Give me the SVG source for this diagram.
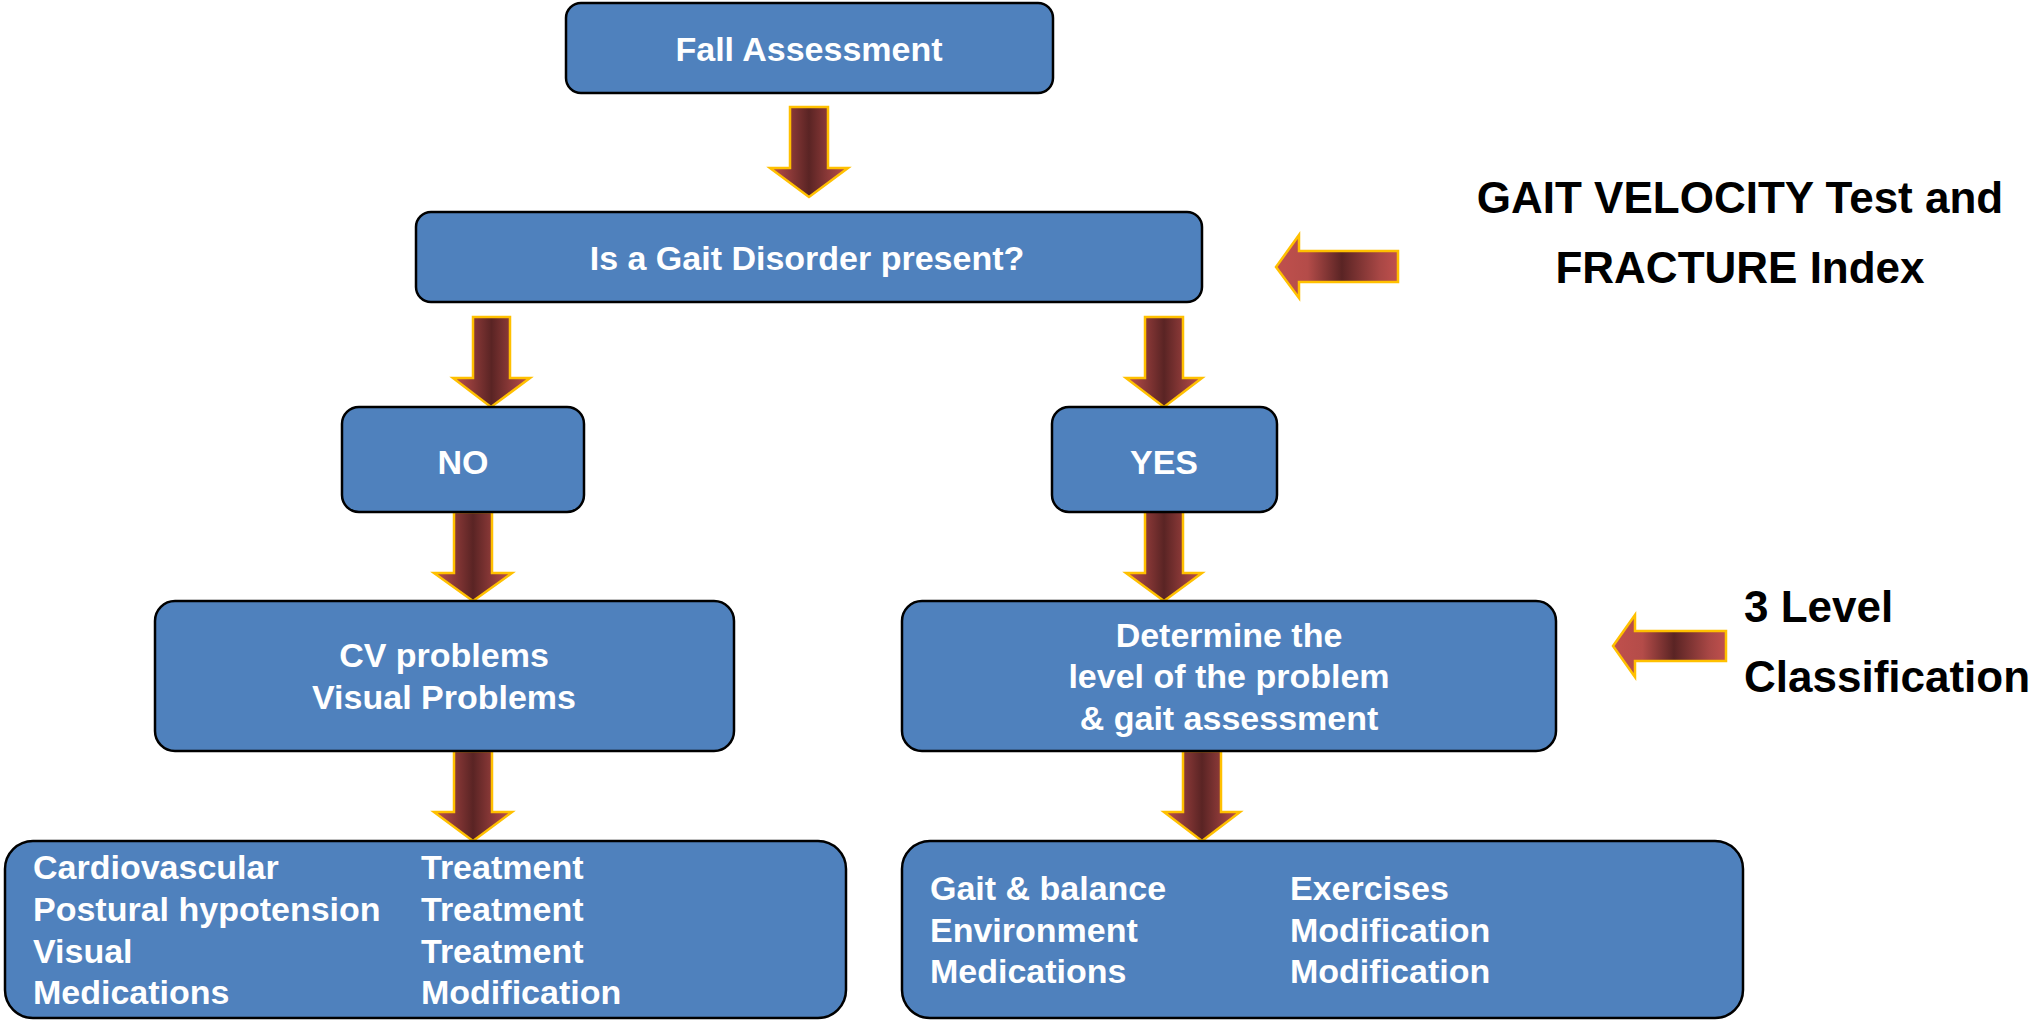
<svg xmlns="http://www.w3.org/2000/svg" width="2038" height="1020" viewBox="0 0 2038 1020">
  <style>
    .box { fill: #4f81bd; stroke: #000; stroke-width: 2.5; }
    .lbl { font-family: "Liberation Sans", Arial, sans-serif; font-weight: bold; font-size: 34px; fill: #fff; }
    .mid { text-anchor: middle; }
    .side { font-family: "Liberation Sans", Arial, sans-serif; font-weight: bold; font-size: 44px; fill: #000; }
    .down { fill: url(#gDown); stroke: #ffc000; stroke-width: 2.5; stroke-linejoin: miter; }
    .left { fill: url(#gLeft); stroke: #ffc000; stroke-width: 2.5; stroke-linejoin: miter; }
  </style>
  <defs>
    <linearGradient id="gDown" x1="0" y1="0" x2="1" y2="0">
      <stop offset="0" stop-color="#c0504d"/>
      <stop offset="0.5" stop-color="#5a2424"/>
      <stop offset="1" stop-color="#c0504d"/>
    </linearGradient>
    <linearGradient id="gLeft" x1="0" y1="0" x2="1" y2="0">
      <stop offset="0" stop-color="#c0504d"/>
      <stop offset="0.26" stop-color="#b44c49"/>
      <stop offset="0.54" stop-color="#5a2424"/>
      <stop offset="0.85" stop-color="#a84745"/>
      <stop offset="1" stop-color="#c0504d"/>
    </linearGradient>
  </defs>
  <rect width="2038" height="1020" fill="#fff"/>

  <!-- connectors: block arrows -->
  <g id="connectors">
    <path class="down" d="M790 107H828V168H848L809 197L770 168H790Z"/>
    <path class="down" d="M473 317H510V378H530L491 407L453 378H473Z"/>
    <path class="down" d="M1145 317H1183V378H1202L1164 407L1126 378H1145Z"/>
    <path class="down" d="M454 512H492V573H512L473 601L434 573H454Z"/>
    <path class="down" d="M1145 511H1183V573H1202L1164 601L1126 573H1145Z"/>
    <path class="down" d="M454 751H492V812H512L473 841L434 812H454Z"/>
    <path class="down" d="M1183 751H1221V812H1240L1202 841L1164 812H1183Z"/>
    <path class="left" d="M1276 267L1299 235V251H1398V282H1299V298Z"/>
    <path class="left" d="M1613 646L1635 615V631H1726V661H1635V677Z"/>
  </g>

  <g id="fall-assessment">
    <rect class="box" x="566" y="3" width="487" height="90" rx="15"/>
    <text class="lbl mid" x="809" y="61">Fall Assessment</text>
  </g>

  <g id="gait-disorder">
    <rect class="box" x="416" y="212" width="786" height="90" rx="15"/>
    <text class="lbl mid" x="807" y="270">Is a Gait Disorder present?</text>
  </g>

  <g id="no">
    <rect class="box" x="342" y="407" width="242" height="105" rx="17"/>
    <text class="lbl mid" x="463" y="474">NO</text>
  </g>

  <g id="yes">
    <rect class="box" x="1052" y="407" width="225" height="105" rx="17"/>
    <text class="lbl mid" x="1164" y="474">YES</text>
  </g>

  <g id="cv-visual">
    <rect class="box" x="155" y="601" width="579" height="150" rx="20"/>
    <text class="lbl mid" x="444" y="667">CV problems</text>
    <text class="lbl mid" x="444" y="709">Visual Problems</text>
  </g>

  <g id="determine-level">
    <rect class="box" x="902" y="601" width="654" height="150" rx="20"/>
    <text class="lbl mid" x="1229" y="647">Determine the</text>
    <text class="lbl mid" x="1229" y="688">level of the problem</text>
    <text class="lbl mid" x="1229" y="730">&amp; gait assessment</text>
  </g>

  <g id="no-actions">
    <rect class="box" x="5" y="841" width="841" height="177" rx="28"/>
    <text class="lbl" x="33" y="879">Cardiovascular</text>
    <text class="lbl" x="33" y="921">Postural hypotension</text>
    <text class="lbl" x="33" y="963">Visual</text>
    <text class="lbl" x="33" y="1004">Medications</text>
    <text class="lbl" x="421" y="879">Treatment</text>
    <text class="lbl" x="421" y="921">Treatment</text>
    <text class="lbl" x="421" y="963">Treatment</text>
    <text class="lbl" x="421" y="1004">Modification</text>
  </g>

  <g id="yes-actions">
    <rect class="box" x="902" y="841" width="841" height="177" rx="28"/>
    <text class="lbl" x="930" y="900">Gait &amp; balance</text>
    <text class="lbl" x="930" y="942">Environment</text>
    <text class="lbl" x="930" y="983">Medications</text>
    <text class="lbl" x="1290" y="900">Exercises</text>
    <text class="lbl" x="1290" y="942">Modification</text>
    <text class="lbl" x="1290" y="983">Modification</text>
  </g>

  <g id="gait-velocity-note">
    <text class="side mid" x="1740" y="213">GAIT VELOCITY Test and</text>
    <text class="side mid" x="1740" y="283">FRACTURE Index</text>
  </g>

  <g id="level-note">
    <text class="side" x="1744" y="622">3 Level</text>
    <text class="side" x="1744" y="692">Classification</text>
  </g>
</svg>
